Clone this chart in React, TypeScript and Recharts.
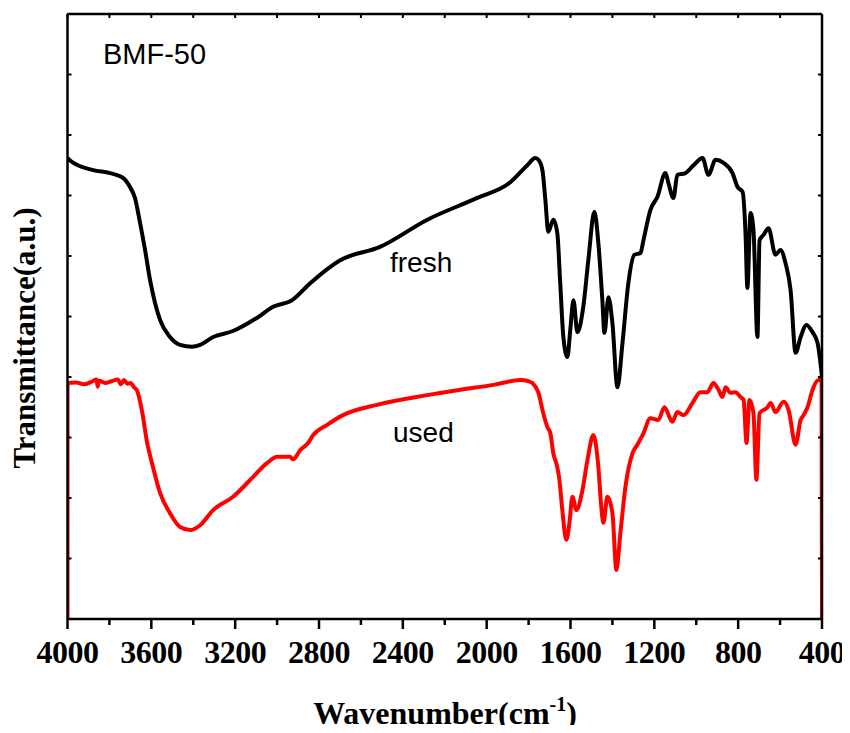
import React from 'react';
import { LineChart, Line, XAxis, YAxis } from 'recharts';

// FTIR spectra of BMF-50, fresh vs. used (transmittance in arbitrary units)
const freshWavenumber = [
  4000, 3988, 3878, 3797, 3735, 3702, 3678, 3654, 3630, 3606, 3582, 3558, 3511, 3463, 3406,
  3367, 3305, 3210, 3095, 3019, 2928, 2842, 2699, 2509, 2283, 2045, 1887, 1806, 1768, 1753,
  1734, 1720, 1706, 1682, 1663, 1649, 1634, 1615, 1601, 1586, 1567, 1539, 1515, 1486, 1467,
  1448, 1438, 1419, 1400, 1376, 1352, 1324, 1295, 1266, 1252, 1219, 1185, 1147, 1133, 1109,
  1090, 1052, 1013, 970, 942, 908, 870, 827, 803, 779, 765, 756, 741, 727, 708, 698, 679,
  655, 622, 598, 574, 550, 526, 502, 474, 445, 421, 400,
];
const freshT = [
  7.62, 7.58, 7.42, 7.37, 7.29, 7.14, 6.96, 6.55, 6.1, 5.6, 5.22, 4.94, 4.66, 4.53, 4.5,
  4.53, 4.66, 4.76, 4.98, 5.16, 5.27, 5.55, 5.93, 6.15, 6.6, 6.96, 7.22, 7.5, 7.62, 7.59,
  7.42, 6.93, 6.4, 6.6, 6.38, 5.55, 4.66, 4.33, 4.78, 5.27, 4.74, 5.16, 5.93, 6.73, 6.21,
  5.27, 4.73, 5.32, 4.89, 3.83, 4.56, 5.55, 6.02, 6.05, 6.26, 6.76, 6.98, 7.37, 7.21, 6.96,
  7.34, 7.37, 7.5, 7.62, 7.34, 7.59, 7.54, 7.37, 7.14, 7.06, 6.38, 5.47, 6.71, 6.43, 4.66, 6.26, 6.35,
  6.46, 6.02, 6.1, 5.88, 5.44, 4.4, 4.66, 4.86, 4.74, 4.56, 4.0,
];

const usedWavenumber = [
  4000, 4000, 3960, 3920, 3880, 3862, 3856, 3850, 3820, 3790, 3760, 3745, 3730, 3715, 3700,
  3680, 3670, 3645, 3620, 3597, 3558, 3511, 3463, 3415, 3367, 3305, 3210, 3114, 3047, 2999,
  2938, 2923, 2890, 2852, 2828, 2761, 2685, 2523, 2283, 2125, 1967, 1839, 1800, 1782, 1753,
  1730, 1710, 1696, 1682, 1663, 1653, 1639, 1620, 1605, 1591, 1572, 1543, 1519, 1491, 1467,
  1453, 1443, 1424, 1400, 1381, 1362, 1338, 1304, 1281, 1252, 1219, 1181, 1152, 1114, 1090,
  1061, 1018, 980, 947, 918, 894, 875, 860, 837, 813, 789, 774, 760, 746, 727, 713, 698,
  660, 645, 622, 583, 559, 526, 502, 488, 469, 445, 416, 402, 400,
];
const usedT = [
  0, 3.9, 3.91, 3.88, 3.93, 3.96, 3.84, 3.94, 3.9, 3.93, 3.96, 3.88, 3.95, 3.89, 3.9,
  3.82, 3.79, 3.45, 2.91, 2.58, 2.08, 1.75, 1.52, 1.47, 1.55, 1.8, 2.02, 2.35, 2.58, 2.68,
  2.68, 2.64, 2.79, 2.91, 3.04, 3.21, 3.37, 3.54, 3.7, 3.79, 3.87, 3.95, 3.93, 3.9, 3.74,
  3.4, 3.17, 3.07, 2.74, 2.51, 2.3, 1.8, 1.31, 1.59, 2.02, 1.8, 2.13, 2.63, 3.04, 2.51,
  1.85, 1.59, 2.02, 1.75, 0.81, 1.42, 2.18, 2.74, 2.88, 3.07, 3.32, 3.29, 3.5, 3.26, 3.42,
  3.37, 3.57, 3.75, 3.75, 3.9, 3.79, 3.67, 3.83, 3.74, 3.75, 3.67, 3.62, 2.91, 3.62, 3.4, 2.3, 3.4,
  3.5, 3.57, 3.42, 3.59, 3.45, 2.88, 3.29, 3.37, 3.5, 3.79, 3.95, 3.95, 0,
];

const xTicks = [4000, 3800, 3600, 3400, 3200, 3000, 2800, 2600, 2400, 2200, 2000, 1800, 1600, 1400, 1200, 1000, 800, 600, 400];
const xLabelStep = 400;
const yTicks = [0, 1, 2, 3, 4, 5, 6, 7, 8, 9, 10];

const freshData = freshWavenumber.map((w, i) => ({ w, t: freshT[i] }));
const usedData = usedWavenumber.map((w, i) => ({ w, t: usedT[i] }));

const W = 842;
const H = 717;
const serif = '"Liberation Serif", "Times New Roman", serif';
const sans = '"Liberation Sans", Arial, sans-serif';

const BottomTick = (props: any) => {
  const { x, y, payload } = props;
  const v = payload.value as number;
  const major = v % xLabelStep === 0;
  return (
    <g>
      <line x1={x} x2={x} y1={y} y2={y + (major ? 10 : 6)} stroke="#000" strokeWidth={2.5} />
      {major && (
        <text x={x} y={y + 44} textAnchor="middle" fontFamily={serif} fontWeight="bold" fontSize={32} letterSpacing={-0.5} fill="#000">
          {v}
        </text>
      )}
    </g>
  );
};

const TopTick = (props: any) => {
  const { x, y } = props;
  return <line x1={x} x2={x} y1={y} y2={y + 4} stroke="#000" strokeWidth={2} />;
};

const LeftTick = (props: any) => {
  const { x, y } = props;
  return <line x1={x} x2={x + 4} y1={y} y2={y} stroke="#000" strokeWidth={2} />;
};

const RightTick = (props: any) => {
  const { x, y } = props;
  return <line x1={x} x2={x - 4} y1={y} y2={y} stroke="#000" strokeWidth={2} />;
};

const axisStroke = { stroke: '#000', strokeWidth: 2.5 };

export default function App() {
  return (
    <div style={{ position: 'relative', width: W, height: H }}>
      <LineChart width={W} height={H} margin={{ top: 5, right: 27, bottom: 76, left: 58.5 }}>
        <XAxis
          xAxisId="b"
          type="number"
          dataKey="w"
          domain={[400, 4000]}
          reversed
          ticks={xTicks}
          interval={0}
          height={30}
          tickSize={0}
          tickMargin={0}
          tickLine={false}
          tick={BottomTick}
          axisLine={axisStroke}
          allowDataOverflow
        />
        <XAxis
          xAxisId="t"
          orientation="top"
          type="number"
          dataKey="w"
          domain={[400, 4000]}
          reversed
          ticks={xTicks}
          interval={0}
          height={1}
          tickSize={0}
          tickMargin={0}
          tickLine={false}
          tick={TopTick}
          axisLine={axisStroke}
          allowDataOverflow
        />
        <YAxis
          yAxisId="l"
          type="number"
          domain={[0, 10]}
          ticks={yTicks}
          interval={0}
          width={1}
          tickSize={0}
          tickMargin={0}
          tickLine={false}
          tick={LeftTick}
          axisLine={axisStroke}
          allowDataOverflow
        />
        <YAxis
          yAxisId="r"
          orientation="right"
          type="number"
          domain={[0, 10]}
          ticks={yTicks}
          interval={0}
          width={1}
          tickSize={0}
          tickMargin={0}
          tickLine={false}
          tick={RightTick}
          axisLine={axisStroke}
          allowDataOverflow
        />
        <Line
          xAxisId="b"
          yAxisId="l"
          data={freshData}
          dataKey="t"
          type="monotone"
          stroke="#000000"
          strokeWidth={4}
          strokeLinejoin="round"
          dot={false}
          activeDot={false}
          isAnimationActive={false}
        />
        <Line
          xAxisId="t"
          yAxisId="r"
          data={usedData}
          dataKey="t"
          type="monotone"
          stroke="#ff0000"
          strokeWidth={4}
          strokeLinejoin="round"
          dot={false}
          activeDot={false}
          isAnimationActive={false}
        />
      </LineChart>
      <svg
        width={W}
        height={H}
        style={{ position: 'absolute', left: 0, top: 0, overflow: 'visible', pointerEvents: 'none' }}
      >
        <text x={95} y={56} fontFamily={sans} fontSize={29} fill="#000">BMF-50</text>
        <text x={382} y={264} fontFamily={sans} fontSize={28} fill="#000">fresh</text>
        <text x={385} y={434} fontFamily={sans} fontSize={28} fill="#000">used</text>
        <text
          x={27}
          y={330}
          transform="rotate(-90 27 330)"
          textAnchor="middle"
          fontFamily={serif}
          fontWeight="bold"
          fontSize={31}
          fill="#000"
        >
          Transmittance(a.u.)
        </text>
        <text x={437} y={716} textAnchor="middle" fontFamily={serif} fontWeight="bold" fontSize={32} fill="#000">
          Wavenumber(cm
          <tspan dy={-13} fontSize={20}>-1</tspan>
          <tspan dy={13}>)</tspan>
        </text>
      </svg>
    </div>
  );
}
